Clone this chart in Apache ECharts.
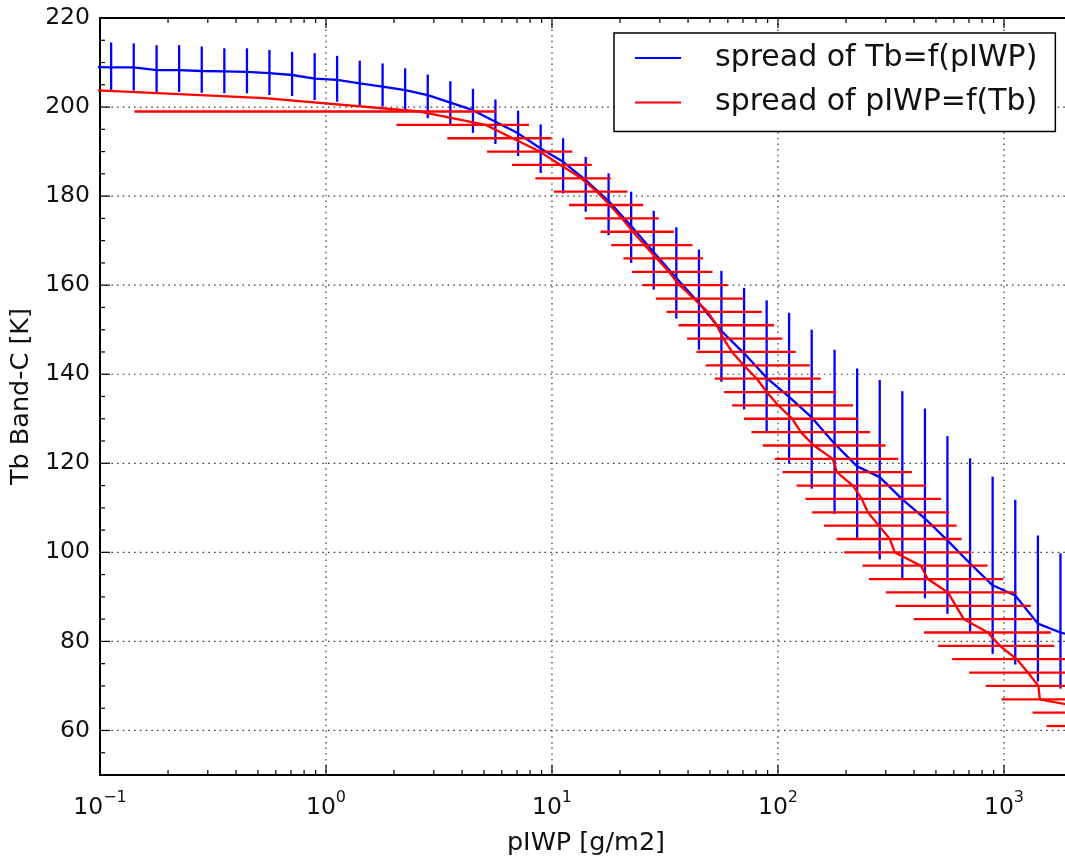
<!DOCTYPE html>
<html><head><meta charset="utf-8">
<script src="https://cdn.jsdelivr.net/npm/echarts@6/dist/echarts.min.js"></script>
<style>html,body{margin:0;padding:0;background:#fff}#c{width:1065px;height:859px}</style>
</head><body><div id="c"></div>
<script>
// ---- data ----
const blueName = 'spread of Tb=f(pIWP)';
const redName = 'spread of pIWP=f(Tb)';

// Tb = f(pIWP): bin centres (g/m2), median Tb and spread (K)
const blueX  = [0.0891,0.112,0.141,0.178,0.224,0.282,0.355,0.447,0.562,0.708,0.891,1.12,1.41,1.78,2.24,2.82,3.55,4.47,5.62,7.08,8.91,11.2,14.1,17.8,22.4,28.2,35.5,44.7,56.2,70.8,89.1,112,141,178,224,282,355,447,562,708,891,1122,1413,1778,2239];
const blueTb = [209.0,208.9,208.9,208.3,208.3,208.1,208.0,207.9,207.6,207.2,206.4,206.1,205.3,204.6,203.8,202.7,201.0,199.3,196.7,194.1,190.7,187.7,183.6,178.9,173.3,167.4,161.6,156.0,149.7,144.7,139.2,134.9,130.3,124.4,119.3,116.9,111.9,107.6,102.7,97.5,92.6,90.3,84.0,82.0,80.8];
const blueHi = [214.6,214.5,214.3,213.9,213.9,213.6,213.2,213.2,212.8,212.4,212.1,211.5,210.4,209.8,208.7,207.3,205.8,204.1,201.7,199.2,196.1,193.0,188.8,185.1,181.0,176.7,173.0,168.0,163.2,159.4,156.6,153.8,150.0,145.5,141.3,138.7,136.2,132.3,126.1,121.1,117.0,111.8,103.8,99.8,97.0];
const blueLo = [203.9,203.8,203.7,203.4,203.4,203.2,203.1,203.1,202.7,202.5,201.6,201.2,200.4,200.1,199.3,197.5,196.1,194.2,191.7,189.0,185.2,180.6,176.5,171.2,165.0,159.0,152.5,145.5,138.3,132.1,127.2,119.9,114.3,108.6,103.1,98.4,94.1,89.7,86.2,82.0,77.2,74.8,71.0,69.4,68.0];

// pIWP = f(Tb): Tb bins (K), median pIWP and spread (g/m2)
const redLeadTb = [205, 202];
const redLeadX  = [0.030, 0.535];
const redTb = [199,196,193,190,187,184,181,178,175,172,169,166,163,160,157,154,151,148,145,142,139,136,133,130,127,124,121,118,115,112,109,106,103,100,97,94,91,88,85,82,79,76,73,70,67,64,61];
const redX  = [2.60,5.09,6.70,8.82,10.9,13.5,15.8,18.0,20.4,22.8,25.7,29.1,32.9,36.7,42.4,48.9,53.6,57.4,62.6,70.6,80.6,89.2,100.3,115.7,126.2,144.1,174.8,182.1,214.4,235.0,249.7,279.4,312.6,328.9,428.7,460.3,564.6,612.6,664.6,848.6,959.0,1140,1276,1420,1442,2900,4000];
const redLo = [0.142,2.05,3.44,5.16,6.65,8.44,10.2,11.9,13.96,16.4,18.3,20.7,22.6,25.2,28.8,32.1,36.3,39.6,43.6,47.9,52.5,57.7,62.6,70.8,76.3,85.7,96.8,104.7,120.8,132.3,141.6,159.8,181.6,196.2,236.7,252.5,300.1,331.2,399.1,443.2,511.2,589.8,701.5,831.6,975.9,1338,1544];
const redHi = [5.67,7.91,9.94,12.3,15.0,18.2,21.6,25.3,29.7,34.6,41.8,46.6,51.3,59.8,70.6,84.8,96.1,104.5,119.9,138.3,154.7,180.8,215.0,226.3,255.6,299.2,340.2,391.1,451.2,527.2,572.0,616.9,649.2,713.9,846.0,992,1137,1315,1338,1613,1668,2100,2400,2800,3200,3600,4200];

// ticks / labels
const xMajorTicks = [0.1, 1, 10, 100, 1000];
const xMinorTicks = [0.2,0.3,0.4,0.5,0.6,0.7,0.8,0.9,2,3,4,5,6,7,8,9,20,30,40,50,60,70,80,90,200,300,400,500,600,700,800,900];
const yMajorTicks = [60,80,100,120,140,160,180,200,220];
const yMinorTicks = [55,65,70,75,85,90,95,105,110,115,125,130,135,145,150,155,165,170,175,185,190,195,205,210,215];
const xGridLines = [1, 10, 100, 1000];
const yGridLines = [60,80,100,120,140,160,180,200];

// ---- chart ----
const FONT = 'DejaVu Sans';
const TXT = '#111';
const LW = 2.3;
const chart = echarts.init(document.getElementById('c'));

function inX(cs, x) { return x >= cs.x - 0.5 && x <= cs.x + cs.width + 0.5; }

function gridSeries(vals, vertical) {
  return {
    type: 'custom', silent: true, z: 1, animation: false,
    data: vals.map(v => vertical ? [v, 100] : [1, v]),
    renderItem: (params, api) => {
      const cs = params.coordSys;
      const st = { stroke: '#333', lineWidth: 1.2, lineDash: [1.5, 4.2] };
      if (vertical) {
        const x = api.coord([api.value(0), 100])[0];
        return { type: 'line', shape: { x1: x, y1: cs.y, x2: x, y2: cs.y + cs.height }, style: st };
      }
      const y = api.coord([1, api.value(1)])[1];
      return { type: 'line', shape: { x1: cs.x, y1: y, x2: cs.x + cs.width, y2: y }, style: st };
    }
  };
}

function tickSeries(vals, vertical, len) {
  return {
    type: 'custom', silent: true, z: 8, animation: false,
    data: vals.map(v => vertical ? [v, 100] : [1, v]),
    renderItem: (params, api) => {
      const cs = params.coordSys;
      const st = { stroke: '#000', lineWidth: 1.2 };
      if (vertical) {
        const x = api.coord([api.value(0), 100])[0];
        const b = cs.y + cs.height, t = cs.y;
        return { type: 'group', children: [
          { type: 'line', shape: { x1: x, y1: b, x2: x, y2: b - len }, style: st },
          { type: 'line', shape: { x1: x, y1: t, x2: x, y2: t + len }, style: st }
        ]};
      }
      const y = api.coord([1, api.value(1)])[1];
      return { type: 'line', shape: { x1: cs.x, y1: y, x2: cs.x + len, y2: y }, style: st };
    }
  };
}

const option = {
  animation: false,
  backgroundColor: '#fff',
  grid: { left: 100, right: -7, top: 18, bottom: 84, show: true, borderColor: '#000', borderWidth: 2,
          containLabel: false, outerBoundsMode: 'none' },
  legend: {
    data: [{ name: blueName }, { name: redName }],
    orient: 'vertical', left: 614, top: 33, z: 20,
    backgroundColor: '#fff', borderColor: '#000', borderWidth: 1.5, borderRadius: 0,
    padding: [10, 18, 14, 21],
    itemWidth: 46, itemHeight: 2, itemGap: 14.5, icon: 'rect',
    selectedMode: false,
    textStyle: { fontFamily: FONT, fontSize: 30, color: TXT, padding: [0, 0, 0, 29], lineHeight: 30 }
  },
  xAxis: {
    type: 'log', logBase: 10, min: 0.1, max: 2000,
    axisLine: { show: false }, axisTick: { show: false }, splitLine: { show: false },
    minorTick: { show: false }, minorSplitLine: { show: false },
    axisLabel: {
      margin: 15, showMaxLabel: false,
      formatter: v => {
        const l = Math.log10(v), e = Math.round(l);
        if (Math.abs(l - e) > 1e-6) return '';
        return '{b|10}{s|' + String(e).replace('-', '\u2212') + '}';
      },
      rich: {
        b: { fontFamily: FONT, fontSize: 23.5, lineHeight: 30, color: TXT, verticalAlign: 'bottom' },
        s: { fontFamily: FONT, fontSize: 16, lineHeight: 18, color: TXT, verticalAlign: 'top' }
      }
    },
    name: 'pIWP [g/m2]', nameLocation: 'middle', nameGap: 55,
    nameTextStyle: { fontFamily: FONT, fontSize: 25.5, color: TXT }
  },
  yAxis: {
    type: 'value', min: 50, max: 220, interval: 10,
    axisLine: { show: false }, axisTick: { show: false }, splitLine: { show: false },
    axisLabel: { margin: 10, fontFamily: FONT, fontSize: 23.5, color: TXT,
      formatter: v => (yMajorTicks.indexOf(v) >= 0 ? String(v) : '') },
    name: 'Tb Band-C [K]', nameLocation: 'middle', nameGap: 62, nameRotate: 90,
    nameTextStyle: { fontFamily: FONT, fontSize: 25.5, color: TXT }
  },
  series: [
    gridSeries(xGridLines, true),
    gridSeries(yGridLines, false),
    {
      type: 'custom', silent: true, z: 2, animation: false,
      data: blueX.map((x, i) => [x, blueTb[i], blueLo[i], blueHi[i]]),
      encode: { x: 0, y: 1 },
      renderItem: (params, api) => {
        const cs = params.coordSys;
        const p1 = api.coord([api.value(0), api.value(2)]);
        const p2 = api.coord([api.value(0), api.value(3)]);
        if (!inX(cs, p1[0])) return null;
        return { type: 'line', shape: { x1: p1[0], y1: p1[1], x2: p2[0], y2: p2[1] },
                 style: { stroke: '#0000ff', lineWidth: LW } };
      }
    },
    {
      name: blueName, type: 'line', z: 3, silent: true, animation: false,
      data: blueX.map((x, i) => [x, blueTb[i]]),
      symbol: 'none', showSymbol: false, color: '#0000ff',
      lineStyle: { width: LW, color: '#0000ff' }
    },
    {
      type: 'custom', silent: true, z: 4, animation: false,
      data: redX.map((x, i) => [x, redTb[i], redLo[i], redHi[i]]),
      encode: { x: 0, y: 1 },
      renderItem: (params, api) => {
        const cs = params.coordSys;
        const p1 = api.coord([api.value(2), api.value(1)]);
        const p2 = api.coord([api.value(3), api.value(1)]);
        const x1 = Math.max(cs.x, p1[0]), x2 = Math.min(cs.x + cs.width, p2[0]);
        if (x2 <= x1) return null;
        return { type: 'line', shape: { x1: x1, y1: p1[1], x2: x2, y2: p2[1] },
                 style: { stroke: '#ff0000', lineWidth: LW } };
      }
    },
    {
      name: redName, type: 'line', z: 5, silent: true, animation: false,
      data: redLeadX.map((x, i) => [x, redLeadTb[i]]).concat(redX.map((x, i) => [x, redTb[i]])),
      symbol: 'none', showSymbol: false, color: '#ff0000',
      lineStyle: { width: LW, color: '#ff0000' }
    },
    tickSeries(xMajorTicks, true, 10),
    tickSeries(xMinorTicks, true, 5),
    tickSeries(yMajorTicks, false, 10),
    tickSeries(yMinorTicks, false, 5)
  ]
};
chart.setOption(option);
</script></body></html>
